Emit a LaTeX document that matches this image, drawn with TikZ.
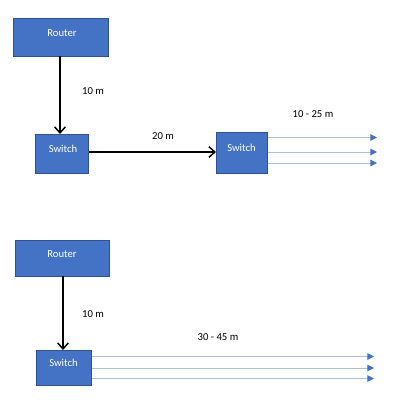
\documentclass[tikz,border=0pt]{standalone}
\usepackage{fontspec}
\setmainfont{Carlito}
\usetikzlibrary{arrows.meta}
\definecolor{boxblue}{HTML}{4472C4}
\definecolor{boxedge}{HTML}{2F528F}
\definecolor{thinline}{HTML}{AFC0DC}
\tikzset{
  devbox/.style={draw=boxedge, line width=0.7pt, fill=boxblue, inner sep=0pt, anchor=north west},
  devtext/.style={text=white, font=\fontsize{8}{9.6}\selectfont},
  lbl/.style={font=\fontsize{8}{9.6}\selectfont, text=black},
  bigarrow/.style={line width=1.1pt, -{Straight Barb[length=4.5pt,width=8pt,line width=1.1pt]}},
  cable/.style={draw=thinline, line width=0.7pt, -{Triangle[length=5pt,width=5pt,fill=boxblue,color=boxblue]}}
}
\begin{document}
\begin{tikzpicture}[x=0.75pt,y=-0.75pt]
\useasboundingbox (0,0) rectangle (400,400);
% top diagram
\node[devbox, minimum width=95*0.75pt, minimum height=38*0.75pt] (r1) at (13,18) {};
\node[devtext] (r1t) at (62,33) {Router};
\node[devbox, minimum width=53*0.75pt, minimum height=39*0.75pt] (s1) at (35,134) {};
\node[devtext] (s1t) at (63,149) {Switch};
\node[devbox, minimum width=51*0.75pt, minimum height=41*0.75pt] (s2) at (216,132) {};
\node[devtext] (s2t) at (241.5,148) {Switch};
\draw[bigarrow] (60,56) -- (60,134);
\node[lbl] (l1) at (93,91) {10 m};
\draw[bigarrow] (s1.east |- 0,152) -- (s2.west |- 0,152);
\node[lbl] (l2) at (163,136) {20 m};
\node[lbl] (l3) at (313,114) {10 - 25 m};
\coordinate (e1) at (377,137.5);
\coordinate (e2) at (377,152);
\coordinate (e3) at (377,163);
\draw[cable] (s2.east |- e1) -- (e1);
\draw[cable] (s2.east |- e2) -- (e2);
\draw[cable] (s2.east |- e3) -- (e3);
% bottom diagram
\node[devbox, minimum width=94*0.75pt, minimum height=36*0.75pt] (r2) at (15,240) {};
\node[devtext] (r2t) at (62,254) {Router};
\node[devbox, minimum width=55*0.75pt, minimum height=35*0.75pt] (s3) at (36,350) {};
\node[devtext] (s3t) at (63.5,363) {Switch};
\draw[bigarrow] (63,276) -- (63,350);
\node[lbl] (l4) at (93,314) {10 m};
\node[lbl] (l5) at (218,337) {30 - 45 m};
\coordinate (f1) at (374,356.5);
\coordinate (f2) at (374,368);
\coordinate (f3) at (374,378.5);
\draw[cable] (s3.east |- f1) -- (f1);
\draw[cable] (s3.east |- f2) -- (f2);
\draw[cable] (s3.east |- f3) -- (f3);
\end{tikzpicture}
\end{document}
